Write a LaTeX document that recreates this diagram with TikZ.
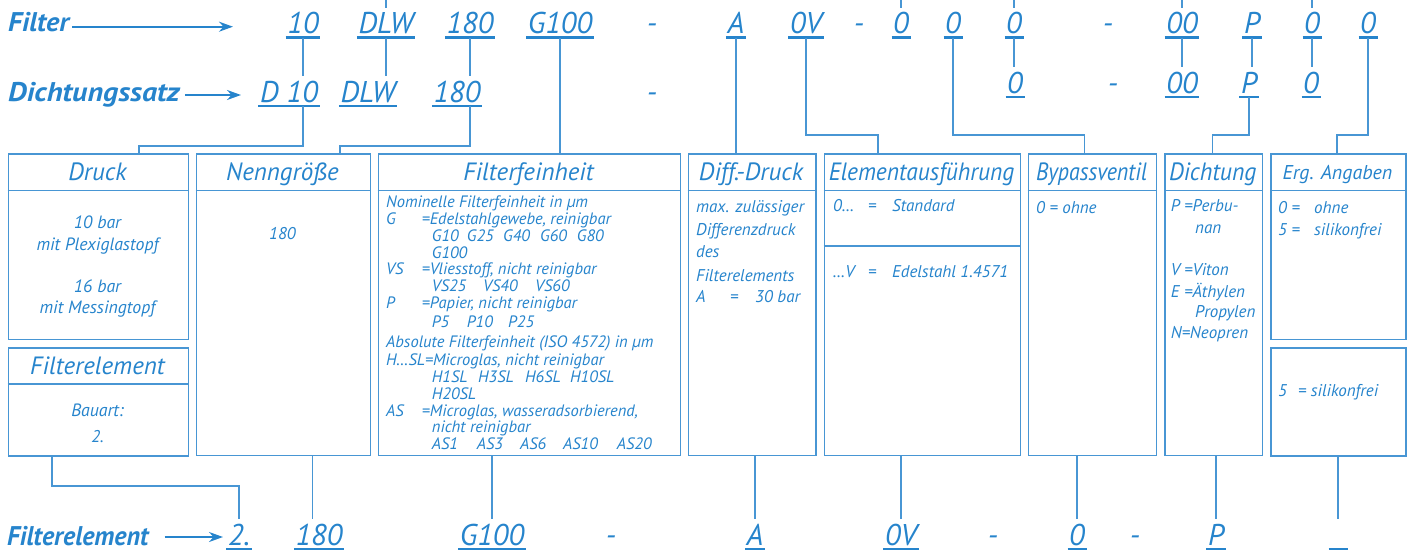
\documentclass[tikz,border=0pt]{standalone}
\usepackage{fontspec}
\setmainfont{PT Sans}
\usetikzlibrary{arrows.meta}
\definecolor{tb}{RGB}{38,132,204}
\definecolor{lb}{RGB}{72,150,212}
\begin{document}
\begin{tikzpicture}[x=1pt,y=-1pt,
  txt/.style={text=tb, font=\itshape\fontsize{17}{20}\selectfont, inner sep=0pt},
  small/.style={text=tb, font=\itshape\fontsize{16.5}{18}\selectfont, inner sep=0pt, anchor=base west},
  titlest/.style={text=tb, font=\itshape\fontsize{25}{30}\selectfont, inner sep=0pt, anchor=base},
  code/.style={text=tb, font=\itshape\fontsize{30}{36}\selectfont, inner xsep=1.5pt, inner ysep=3.8pt, text height=22pt, text depth=0pt, anchor=base},
  hy/.style={text=tb, font=\itshape\fontsize{30}{36}\selectfont, inner sep=0pt, anchor=base},
  lbl/.style={text=tb, font=\bfseries\itshape\fontsize{27}{32}\selectfont, inner sep=0pt, anchor=base west},
  boxst/.style={draw=lb, line width=1.5pt, inner sep=0pt, anchor=north west},
  sep/.style={draw=lb, line width=1.5pt},
  conn/.style={draw=lb, line width=1.3pt},
  uline/.style={draw=tb, line width=2.5pt},
  arr/.style={draw=tb, line width=2pt, -{Stealth[length=14pt,width=10pt]}}
]
\useasboundingbox (0,0) rectangle (1407,552);

% ---------- row labels ----------
\node[lbl] (lfilter) at (8,31.5) {\scalebox{1.05}[1]{Filter}};
\node[lbl] (ldicht) at (8,101.5) {\scalebox{1.11}[1]{Dichtungssatz}};
\node[lbl] (lfelem) at (7,545) {\scalebox{0.965}[1]{Filterelement}};
\coordinate (af) at (233,26.7);
\coordinate (ad) at (241,95);
\coordinate (ab) at (223,537);
\draw[arr] ([xshift=3pt]lfilter.east |- af) -- (af);
\draw[arr] ([xshift=5pt]ldicht.east |- ad) -- (ad);
\draw[arr] ([xshift=16pt]lfelem.east |- ab) -- (ab);

% ---------- top row ----------
\node[code] (t1) at (303,33.5) {10};
\node[code] (t2) at (386,33.5) {DLW};
\node[code] (t3) at (470,33.5) {180};
\node[code] (t4) at (560,33.5) {G100};
\node[hy] (h1) at (652,33.5) {-};
\node[code] (t5) at (736,33.5) {A};
\node[code] (t6) at (806,33.5) {0V};
\node[hy] (h2) at (859,33.5) {-};
\node[code] (t7) at (901,33.5) {0};
\node[code] (t8) at (953,33.5) {0};
\node[code] (t9) at (1014,33.5) {0};
\node[hy] (h3) at (1108,33.5) {-};
\node[code] (t10) at (1182,33.5) {00};
\node[code] (t11) at (1252,33.5) {P};
\node[code] (t12) at (1312,33.5) {0};
\node[code] (t13) at (1368,33.5) {0};

% ---------- second row ----------
\node[code] (s1) at (289,102) {D 10};
\node[code] (s2) at (368,102) {DLW};
\node[code] (s3) at (457,102) {180};
\node[hy] (h4) at (652,102) {-};
\node[code] (s9) at (1015,93) {0};
\node[hy] (h5) at (1113,93) {-};
\node[code] (s10) at (1182,93) {00};
\node[code] (s11) at (1249,93) {P};
\node[code] (s12) at (1311,93) {0};

% ---------- bottom row ----------
\node[code] (b1) at (239,545) {2.};
\node[code] (b2) at (319,545) {180};
\node[code] (b3) at (492,545) {G100};
\node[hy] (h6) at (611,545) {-};
\node[code] (b4) at (755,545) {A};
\node[code] (b5) at (901,545) {0V};
\node[hy] (h7) at (993,545) {-};
\node[code] (b6) at (1077,545) {0};
\node[hy] (h8) at (1135,545) {-};
\node[code] (b7) at (1216,545) {P};
\node[code] (b8) at (1338,545) {\phantom{0}};

\foreach \n in {t1,t2,t3,t4,t5,t6,t7,t8,t9,t10,t11,t12,t13,s1,s2,s3,s9,s10,s11,s12,b1,b2,b3,b4,b5,b6,b7,b8}
  \draw[uline] (\n.south west) -- (\n.south east);

% ---------- boxes ----------
\node[boxst, minimum width=180pt, minimum height=185.5pt] (druck) at (7.5,153) {};
\node[boxst, minimum width=180pt, minimum height=108pt] (felem) at (7.5,347) {};
\node[boxst, minimum width=174pt, minimum height=301.5pt] (nenn) at (195.5,153) {};
\node[boxst, minimum width=302pt, minimum height=301.5pt] (ffein) at (377.5,153) {};
\node[boxst, minimum width=127.5pt, minimum height=301.5pt] (diff) at (687.5,153) {};
\node[boxst, minimum width=196pt, minimum height=301.5pt] (elem) at (823.5,153) {};
\node[boxst, minimum width=128pt, minimum height=301.5pt] (bypass) at (1027.5,153) {};
\node[boxst, minimum width=97.5pt, minimum height=301.5pt] (dicht) at (1164,153) {};
\node[boxst, minimum width=135pt, minimum height=185.5pt] (erg) at (1270,153) {};
\node[boxst, minimum width=135pt, minimum height=108pt] (erg2) at (1270,347) {};

\foreach \b in {druck,nenn,ffein,diff,elem,bypass,dicht,erg}
  \draw[sep] ([yshift=-37.5pt]\b.north west) -- ([yshift=-37.5pt]\b.north east);
\draw[sep] ([yshift=-37pt]felem.north west) -- ([yshift=-37pt]felem.north east);
\draw[sep] ([yshift=-93pt]elem.north west) -- ([yshift=-93pt]elem.north east);

% ---------- titles ----------
\node[titlest] (ti1) at (97.5,180) {Druck};
\node[titlest] (ti2) at (97.5,374) {Filterelement};
\node[titlest] (ti3) at (282.5,180) {Nenngröße};
\node[titlest] (ti4) at (528.5,180) {Filterfeinheit};
\node[titlest] (ti5) at (751,180) {Diff.-Druck};
\node[titlest] (ti6) at (921.5,180) {\scalebox{0.94}[1]{Elementausführung}};
\node[titlest] (ti7) at (1091.5,180) {\scalebox{0.88}[1]{Bypassventil}};
\node[titlest] (ti8) at (1212.75,180) {\scalebox{0.95}[1]{Dichtung}};
\node[titlest, font=\itshape\fontsize{20}{24}\selectfont] (ti9) at (1337.5,179) {Erg. Angaben};

% ---------- box contents ----------
\node[txt, anchor=base, font=\itshape\fontsize{17.8}{20}\selectfont] (c1) at (97.5,228) {10 bar};
\node[txt, anchor=base, font=\itshape\fontsize{17.8}{20}\selectfont] (c2) at (97.5,250) {mit Plexiglastopf};
\node[txt, anchor=base, font=\itshape\fontsize{17.8}{20}\selectfont] (c3) at (97.5,292) {16 bar};
\node[txt, anchor=base, font=\itshape\fontsize{17.8}{20}\selectfont] (c4) at (97.5,313.5) {mit Messingtopf};
\node[txt, anchor=base, font=\itshape\fontsize{17.8}{20}\selectfont] (c5) at (97.5,416) {Bauart:};
\node[txt, anchor=base] (c6) at (97.5,442.5) {2.};
\node[txt, anchor=base] (c7) at (282.5,239) {180};

\node[small] (f1) at (386,207.2) {Nominelle Filterfeinheit in µm};
\node[small] (f2) at (386,224.5) {\makebox[35.7pt][l]{G}=Edelstahlgewebe, reinigbar};
\node[small] (f3) at (431.7,241.5) {\makebox[35pt][l]{G10}\makebox[36.3pt][l]{G25}\makebox[37pt][l]{G40}\makebox[36.7pt][l]{G60}G80};
\node[small] (f4) at (431.7,258.2) {G100};
\node[small] (f5) at (386,274.8) {\makebox[35.7pt][l]{VS}=Vliesstoff, nicht reinigbar};
\node[small] (f6) at (431.7,291.5) {\makebox[51.3pt][l]{VS25}\makebox[52pt][l]{VS40}VS60};
\node[small] (f7) at (386,308.8) {\makebox[35.7pt][l]{P}=Papier, nicht reinigbar};
\node[small] (f8) at (431.7,327.2) {\makebox[35pt][l]{P5}\makebox[41.3pt][l]{P10}P25};
\node[small] (f9) at (386,347.2) {Absolute Filterfeinheit (ISO 4572) in µm};
\node[small] (f10) at (386,365.5) {H…SL=Microglas, nicht reinigbar};
\node[small] (f11) at (431.7,382.8) {\makebox[46.3pt][l]{H1SL}\makebox[47pt][l]{H3SL}\makebox[45pt][l]{H6SL}H10SL};
\node[small] (f12) at (431.7,399.5) {H20SL};
\node[small] (f13) at (386,416.2) {\makebox[35.7pt][l]{AS}=Microglas, wasseradsorbierend,};
\node[small] (f14) at (431.7,432.8) {nicht reinigbar};
\node[small] (f15) at (431.7,449.5) {\makebox[45pt][l]{AS1}\makebox[43.3pt][l]{AS3}\makebox[43pt][l]{AS6}\makebox[53.7pt][l]{AS10}AS20};

\node[txt, anchor=base west] (d1) at (696,212.7) {max. zulässiger};
\node[txt, anchor=base west] (d2) at (696,235.3) {Differenzdruck};
\node[txt, anchor=base west] (d3) at (696,257.7) {des};
\node[txt, anchor=base west] (d4) at (696,281) {Filterelements};
\node[txt, anchor=base west] (d5) at (696,302.7) {\makebox[34pt][l]{A}\makebox[25pt][l]{=}30 bar};

\node[txt, anchor=base west] (e1) at (833,211) {\makebox[35pt][l]{0…}\makebox[24pt][l]{=}Standard};
\node[txt, anchor=base west] (e2) at (833,277.7) {\makebox[35pt][l]{…V}\makebox[24pt][l]{=}Edelstahl 1.4571};

\node[txt, anchor=base west] (p1) at (1036,213.7) {0 = ohne};

\node[txt, anchor=base west] (g1) at (1170.7,211.7) {\makebox[13.5pt][l]{P}=Perbu-};
\node[txt, anchor=base west] (g2) at (1195,233) {nan};
\node[txt, anchor=base west] (g3) at (1170.7,275) {\makebox[13.5pt][l]{V}=Viton};
\node[txt, anchor=base west] (g4) at (1170.7,297) {\makebox[13.5pt][l]{E}=Äthylen};
\node[txt, anchor=base west] (g5) at (1195,317.7) {Propylen};
\node[txt, anchor=base west] (g6) at (1170.7,338.7) {N=Neopren};

\node[txt, anchor=base west] (r1) at (1278,213.7) {\makebox[36pt][l]{0 =}ohne};
\node[txt, anchor=base west] (r2) at (1278,235.3) {\makebox[36pt][l]{5 =}silikonfrei};
\node[txt, anchor=base west] (r3) at (1278,396.7) {\makebox[20pt][l]{5}= silikonfrei};

% ---------- connectors ----------
\coordinate (top) at (0,0);
\coordinate (hL) at (0,146);
\coordinate (hR) at (0,135);
\coordinate (hB) at (0,486);
\coordinate (xdr) at (139,0);
\coordinate (xnn) at (340,0);
\coordinate (xel) at (878,0);
\coordinate (xby) at (1084.5,0);
\coordinate (xdi) at (1212.7,0);
\coordinate (xer) at (1337,0);
\coordinate (xfe) at (52,0);
\coordinate (xb2) at (312.5,0);

% stubs from above
\foreach \n in {t2,t7,t9,t10,t12}
  \draw[conn] (\n.north) -- (\n |- top);
% top row to second row
\foreach \a/\b in {t1/s1,t2/s2,t3/s3,t9/s9,t10/s10,t11/s11,t12/s12}
  \draw[conn] (\a.south) -- (\a |- \b.north);
% to the boxes
\draw[conn] (s1.south -| t1) |- (hL -| xdr) -- (xdr |- druck.north);
\draw[conn] (s3.south -| t3) |- (hL -| xnn) -- (xnn |- nenn.north);
\draw[conn] (t4.south) -- (t4 |- ffein.north);
\draw[conn] (t5.south) -- (t5 |- diff.north);
\draw[conn] (t6.south) |- (hR -| xel) -- (xel |- elem.north);
\draw[conn] (t8.south) |- (hR -| xby) -- (xby |- bypass.north);
\draw[conn] (s11.south) |- (hR -| xdi) -- (xdi |- dicht.north);
\draw[conn] (t13.south) |- (hR -| xer) -- (xer |- erg.north);
% boxes to the bottom row
\draw[conn] (xfe |- felem.south) |- (hB -| b1) -- (b1.north);
\draw[conn] (xb2 |- nenn.south) -- (xb2 |- b2.north);
\draw[conn] (b3 |- ffein.south) -- (b3.north);
\draw[conn] (b4 |- diff.south) -- (b4.north);
\draw[conn] (b5 |- elem.south) -- (b5.north);
\draw[conn] (b6 |- bypass.south) -- (b6.north);
\draw[conn] (b7 |- dicht.south) -- (b7.north);
\draw[conn] (b8 |- erg2.south) -- (b8.north);
\end{tikzpicture}
\end{document}
